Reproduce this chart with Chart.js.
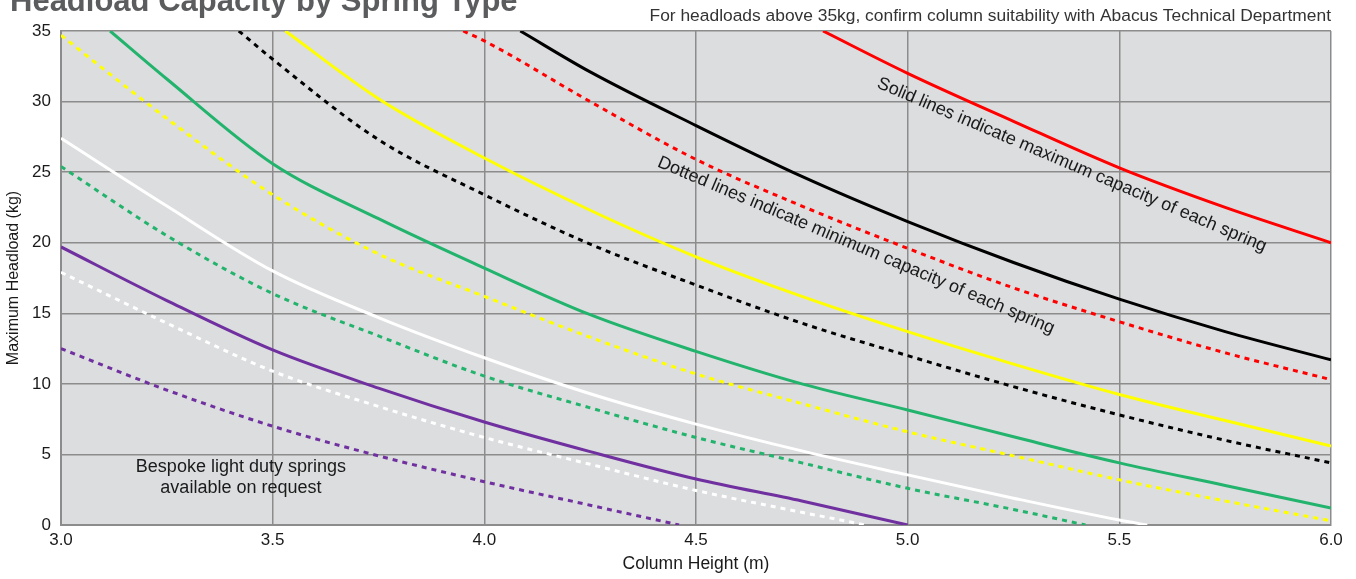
<!DOCTYPE html>
<html>
<head>
<meta charset="utf-8">
<script src="https://cdn.jsdelivr.net/npm/chart.js@4.4.0/dist/chart.umd.min.js"></script>
<style>
  html, body { margin: 0; padding: 0; background: #fff; }
  #wrap { width: 1356px; height: 579px; position: relative; }
</style>
</head>
<body>
<div id="wrap"><canvas id="chart"></canvas></div>
<script>
// [column height (m), headload (kg)]
const redMax = [[4.80, 35], [5.0, 32.0], [5.25, 28.6], [5.5, 25.3], [5.75, 22.5], [6.0, 20.0]];
const redMin = [[3.95, 35], [4.0, 34.3], [4.25, 30.0], [4.5, 25.9], [4.75, 22.6], [5.0, 19.6], [5.25, 16.8], [5.5, 14.4], [5.75, 12.2], [6.0, 10.3]];
const blackMax = [[4.085, 35], [4.25, 32.1], [4.5, 28.3], [4.75, 24.7], [5.0, 21.5], [5.25, 18.6], [5.5, 16.0], [5.75, 13.7], [6.0, 11.7]];
const blackMin = [[3.42, 35], [3.5, 33.0], [3.75, 27.3], [4.0, 23.4], [4.25, 19.9], [4.5, 17.0], [4.75, 14.3], [5.0, 12.0], [5.25, 9.8], [5.5, 7.8], [5.75, 6.0], [6.0, 4.4]];
const yellowMax = [[3.53, 35], [3.75, 30.2], [4.0, 26.0], [4.25, 22.3], [4.5, 19.0], [4.75, 16.2], [5.0, 13.7], [5.25, 11.4], [5.5, 9.25], [5.75, 7.4], [6.0, 5.6]];
const yellowMin = [[3.0, 34.7], [3.25, 28.8], [3.5, 23.4], [3.75, 19.2], [4.0, 16.2], [4.25, 13.3], [4.5, 10.7], [4.75, 8.6], [5.0, 6.6], [5.25, 4.9], [5.5, 3.2], [5.75, 1.7], [6.0, 0.3]];
const greenMax = [[3.116, 35], [3.25, 31.6], [3.5, 25.6], [3.75, 21.7], [4.0, 18.2], [4.25, 14.9], [4.5, 12.3], [4.75, 10.0], [5.0, 8.15], [5.25, 6.25], [5.5, 4.4], [5.75, 2.8], [6.0, 1.2]];
const greenMin = [[3.0, 25.4], [3.25, 20.5], [3.5, 16.4], [3.75, 13.4], [4.0, 10.55], [4.25, 8.3], [4.5, 6.2], [4.75, 4.4], [5.0, 2.6], [5.25, 1.1], [5.42, 0]];
const whiteMax = [[3.0, 27.4], [3.25, 22.6], [3.5, 18.0], [3.75, 14.7], [4.0, 11.85], [4.25, 9.3], [4.5, 7.15], [4.75, 5.25], [5.0, 3.55], [5.25, 1.9], [5.5, 0.35], [5.566, 0]];
const whiteMin = [[3.0, 17.9], [3.25, 14.3], [3.5, 10.9], [3.75, 8.4], [4.0, 6.2], [4.25, 4.3], [4.5, 2.45], [4.75, 0.9], [4.9, 0]];
const purpleMax = [[3.0, 19.7], [3.25, 15.9], [3.5, 12.4], [3.75, 9.7], [4.0, 7.3], [4.25, 5.2], [4.5, 3.26], [4.75, 1.7], [5.0, 0]];
const purpleMin = [[3.0, 12.5], [3.25, 9.56], [3.5, 7.0], [3.75, 4.9], [4.0, 3.07], [4.25, 1.4], [4.46, 0]];

const xTicks = [3.0, 3.5, 4.0, 4.5, 5.0, 5.5, 6.0];
const yTicks = [0, 5, 10, 15, 20, 25, 30, 35];

const FONT = "'Liberation Sans', Arial, sans-serif";

function line(points, color, dotted) {
  return {
    data: points.map(p => ({ x: p[0], y: p[1] })),
    borderColor: color,
    borderWidth: 3,
    borderDash: dotted ? [5, 5] : [],
    pointRadius: 0,
    fill: false,
    cubicInterpolationMode: "monotone",
  };
}

const datasets = [
  line(purpleMin, "#7030a0", true),
  line(whiteMin, "#ffffff", true),
  line(greenMin, "#22b36c", true),
  line(yellowMin, "#ffff00", true),
  line(blackMin, "#000000", true),
  line(redMin, "#ff0000", true),
  line(purpleMax, "#7030a0", false),
  line(whiteMax, "#ffffff", false),
  line(greenMax, "#22b36c", false),
  line(yellowMax, "#ffff00", false),
  line(blackMax, "#000000", false),
  line(redMax, "#ff0000", false),
];

// grey plot background
const plotBg = {
  id: "plotBg",
  beforeDraw(chart) {
    const { ctx, chartArea: a } = chart;
    ctx.save();
    ctx.fillStyle = "#dcdddf";
    ctx.fillRect(a.left, a.top, a.width, a.height);
    ctx.restore();
  },
};

// heading, note and the text written over the plot
const labels = {
  id: "labels",
  afterDatasetsDraw(chart) {
    const { ctx, chartArea: a, scales } = chart;
    const x = scales.x, y = scales.y;
    ctx.save();

    // heading is cropped at the top edge in the original
    ctx.fillStyle = "#5b5c5e";
    ctx.font = "bold 31px " + FONT;
    ctx.textAlign = "left";
    ctx.textBaseline = "alphabetic";
    ctx.fillText("Headload Capacity by Spring Type", 10, 11);

    ctx.fillStyle = "#333";
    ctx.font = "17.4px " + FONT;
    ctx.textAlign = "right";
    ctx.fillText("For headloads above 35kg, confirm column suitability with Abacus Technical Department", a.right, 21);

    ctx.fillStyle = "#1a1a1a";
    ctx.font = "18px " + FONT;
    ctx.textAlign = "center";
    ctx.textBaseline = "middle";
    const angle = 23 * Math.PI / 180;

    ctx.save();
    ctx.translate(x.getPixelForValue(5.388), y.getPixelForValue(25.5));
    ctx.rotate(angle);
    ctx.fillText("Solid lines indicate maximum capacity of each spring", 0, 0);
    ctx.restore();

    ctx.save();
    ctx.translate(x.getPixelForValue(4.878), y.getPixelForValue(19.8));
    ctx.rotate(angle);
    ctx.fillText("Dotted lines indicate minimum capacity of each spring", 0, 0);
    ctx.restore();

    ctx.font = "18px " + FONT;
    ctx.fillText("Bespoke light duty springs", x.getPixelForValue(3.425), y.getPixelForValue(4.1));
    ctx.fillText("available on request", x.getPixelForValue(3.425), y.getPixelForValue(2.6));

    ctx.restore();
  },
};

new Chart(document.getElementById("chart"), {
  type: "line",
  data: { datasets },
  plugins: [plotBg, labels],
  options: {
    responsive: true,
    maintainAspectRatio: false,
    animation: false,
    layout: { padding: { top: 31, right: 25, left: 0, bottom: 0 } },
    plugins: {
      legend: { display: false },
      tooltip: { enabled: false },
    },
    scales: {
      x: {
        type: "linear",
        min: 3,
        max: 6,
        afterBuildTicks: (s) => { s.ticks = xTicks.map(v => ({ value: v })); },
        afterFit: (s) => { s.height = 54; },
        ticks: {
          color: "#1a1a1a",
          font: { family: FONT, size: 17 },
          padding: 5,
          maxRotation: 0,
          callback: (v) => Number(v).toFixed(1),
        },
        grid: { color: "#8c8c8c", lineWidth: 1.5, drawTicks: false },
        border: { color: "#8c8c8c", width: 2 },
        title: {
          display: true,
          text: "Column Height (m)",
          color: "#1a1a1a",
          font: { family: FONT, size: 17.5 },
          padding: { top: 7 },
        },
      },
      y: {
        min: 0,
        max: 35,
        afterBuildTicks: (s) => { s.ticks = yTicks.map(v => ({ value: v })); },
        afterFit: (s) => { s.width = 61; },
        ticks: {
          color: "#1a1a1a",
          font: { family: FONT, size: 17 },
          padding: 10,
        },
        grid: { color: "#8c8c8c", lineWidth: 1.5, drawTicks: false },
        border: { color: "#8c8c8c", width: 2 },
        title: {
          display: true,
          text: "Maximum Headload (kg)",
          color: "#1a1a1a",
          font: { family: FONT, size: 16 },
          padding: { top: 4 },
        },
      },
    },
  },
});
</script>
</body>
</html>
